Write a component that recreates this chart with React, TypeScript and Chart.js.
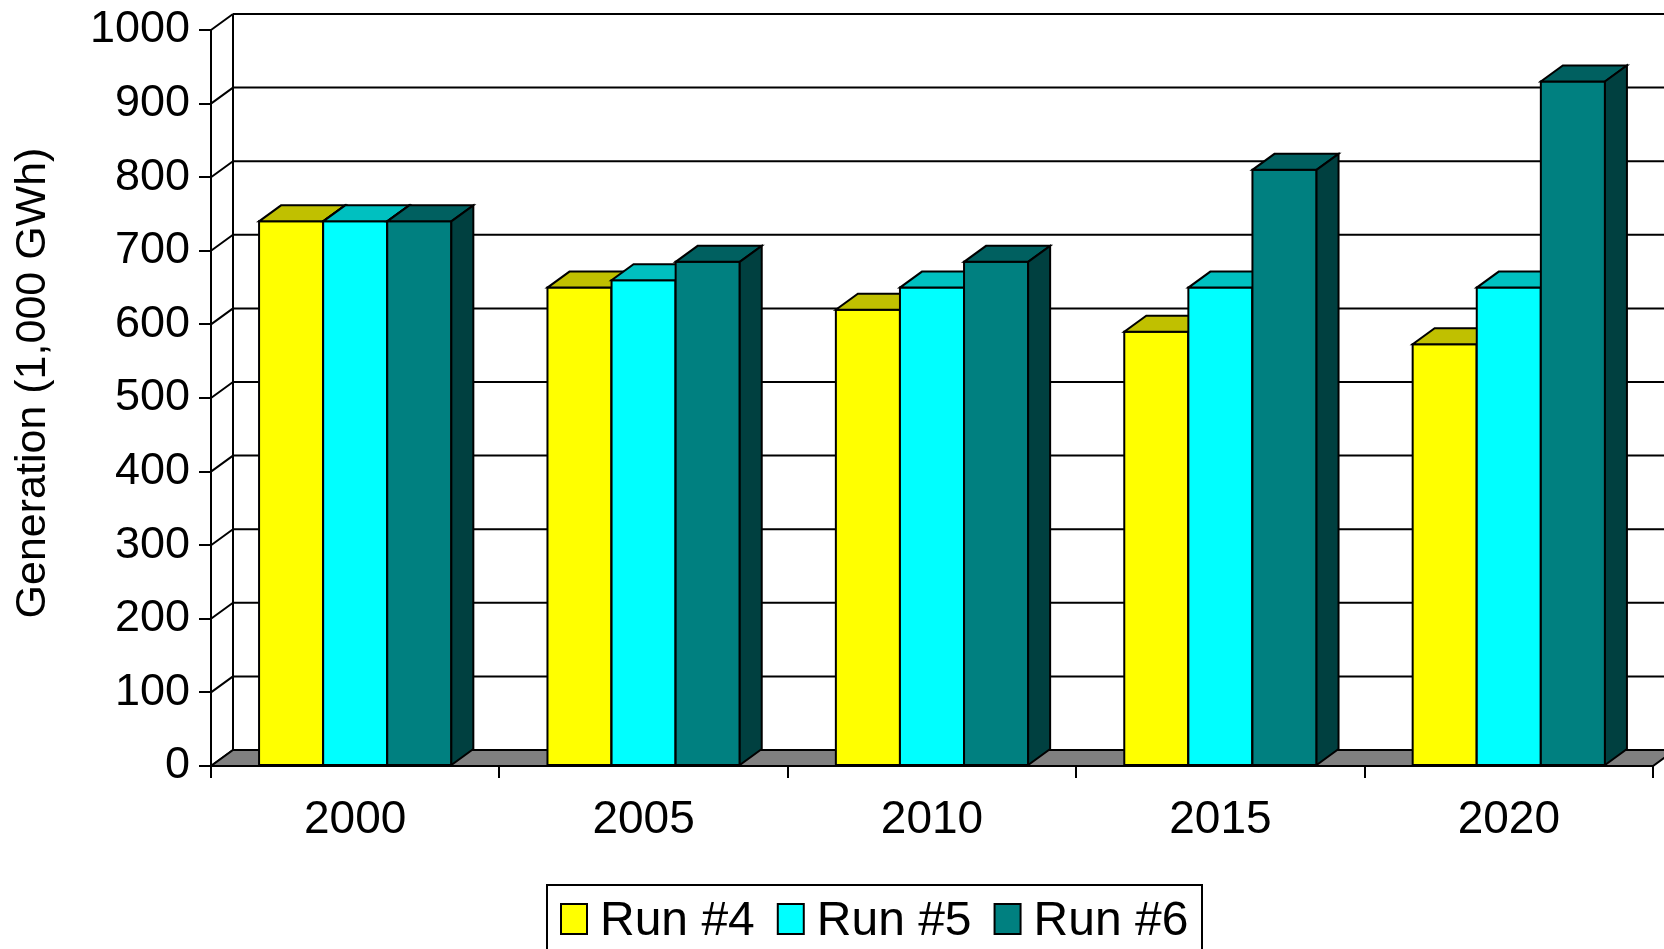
import React, { useEffect, useRef } from "react";
import { Chart, registerables } from "chart.js";

Chart.register(...registerables);

const categories = ["2000", "2005", "2010", "2015", "2020"];
const run4 = [740, 650, 620, 590, 573];
const run5 = [740, 660, 650, 650, 650];
const run6 = [740, 685, 685, 810, 930];
const seriesNames = ["Run #4", "Run #5", "Run #6"];
const yTitle = "Generation (1,000 GWh)";

const FONT = "'Liberation Sans', Arial, sans-serif";
const FRONT = ["#FFFF00", "#00FFFF", "#008080"];
const TOP = ["#C0C000", "#00C0C0", "#006060"];
const SIDE = ["#808000", "#008080", "#004040"];
const DX = 22;
const DY = -16;

function poly(ctx: CanvasRenderingContext2D, pts: number[][], fill: string | null) {
  ctx.beginPath();
  ctx.moveTo(pts[0][0], pts[0][1]);
  for (let i = 1; i < pts.length; i++) ctx.lineTo(pts[i][0], pts[i][1]);
  ctx.closePath();
  if (fill) {
    ctx.fillStyle = fill;
    ctx.fill();
  }
  ctx.stroke();
}

const threeD = {
  id: "threeD",
  beforeDatasetsDraw(chart: any) {
    const ctx: CanvasRenderingContext2D = chart.ctx;
    const { left, right, bottom } = chart.chartArea;
    const y = chart.scales.y;
    ctx.save();
    ctx.strokeStyle = "#000";
    ctx.lineWidth = 2;
    ctx.lineJoin = "miter";
    y.ticks.forEach((t: any) => {
      const py = y.getPixelForValue(t.value);
      ctx.beginPath();
      ctx.moveTo(left + DX, py + DY);
      ctx.lineTo(chart.width + 40, py + DY);
      ctx.moveTo(left, py);
      ctx.lineTo(left + DX, py + DY);
      ctx.stroke();
    });
    const topPx = y.getPixelForValue(y.max);
    ctx.beginPath();
    ctx.moveTo(left + DX, topPx + DY);
    ctx.lineTo(left + DX, bottom + DY);
    ctx.stroke();
    poly(ctx, [[left, bottom], [right, bottom], [right + DX, bottom + DY], [left + DX, bottom + DY]], "#808080");
    const n = chart.data.labels.length;
    for (let j = 0; j < n; j++) {
      chart.data.datasets.forEach((_: any, i: number) => {
        const el = chart.getDatasetMeta(i).data[j];
        const p = el.getProps(["x", "y", "base", "width"], true);
        const x0 = p.x - p.width / 2;
        const x1 = p.x + p.width / 2;
        poly(ctx, [[x0, p.y], [x1, p.y], [x1, p.base], [x0, p.base]], FRONT[i]);
        poly(ctx, [[x0, p.y], [x1, p.y], [x1 + DX, p.y + DY], [x0 + DX, p.y + DY]], TOP[i]);
        poly(ctx, [[x1, p.y], [x1 + DX, p.y + DY], [x1 + DX, p.base + DY], [x1, p.base]], SIDE[i]);
      });
    }
    ctx.restore();
    return false;
  },
  afterDraw(chart: any) {
    const ctx: CanvasRenderingContext2D = chart.ctx;
    ctx.save();
    ctx.fillStyle = "#000";
    ctx.font = `43px ${FONT}`;
    ctx.translate(33, 383);
    ctx.rotate(-Math.PI / 2);
    ctx.textAlign = "center";
    ctx.textBaseline = "middle";
    ctx.fillText(yTitle, 0, 0);
    ctx.restore();
    ctx.save();
    ctx.strokeStyle = "#000";
    ctx.lineWidth = 2;
    ctx.strokeRect(547, 885, 655, 100);
    ctx.font = `48px ${FONT}`;
    ctx.textBaseline = "alphabetic";
    ctx.textAlign = "left";
    let x = 561;
    seriesNames.forEach((name, i) => {
      ctx.fillStyle = FRONT[i];
      ctx.fillRect(x, 904, 26, 30);
      ctx.strokeRect(x, 904, 26, 30);
      ctx.fillStyle = "#000";
      ctx.fillText(name, x + 39, 935);
      x += 39 + ctx.measureText(name).width + 23;
    });
    ctx.restore();
  },
};

export default function App() {
  const ref = useRef<HTMLCanvasElement>(null);
  useEffect(() => {
    if (!ref.current) return;
    Chart.defaults.font.family = FONT;
    const chart = new Chart(ref.current, {
      type: "bar",
      data: {
        labels: categories,
        datasets: [
          { label: seriesNames[0], data: run4, backgroundColor: FRONT[0] },
          { label: seriesNames[1], data: run5, backgroundColor: FRONT[1] },
          { label: seriesNames[2], data: run6, backgroundColor: FRONT[2] },
        ],
      },
      options: {
        responsive: false,
        animation: false,
        layout: { padding: { top: 30, right: 11, left: 0, bottom: 0 } },
        datasets: { bar: { categoryPercentage: 2 / 3, barPercentage: 1 } },
        plugins: { legend: { display: false }, tooltip: { enabled: false } },
        scales: {
          x: {
            offset: true,
            grid: { offset: true, display: true, drawOnChartArea: false, drawTicks: true, tickLength: 12, color: "#000", lineWidth: 2 },
            border: { display: true, color: "#000", width: 2 },
            ticks: { color: "#000", font: { size: 46 }, padding: 15, maxRotation: 0 },
            afterFit: (s: any) => {
              s.height = 183;
              s.paddingLeft = 0;
              s.paddingRight = 0;
            },
          },
          y: {
            min: 0,
            max: 1000,
            ticks: { stepSize: 100, color: "#000", font: { size: 45 }, padding: 9, callback: (v: any) => String(v) },
            grid: { display: true, drawOnChartArea: false, drawTicks: true, tickLength: 12, color: "#000", lineWidth: 2 },
            border: { display: true, color: "#000", width: 2 },
            afterFit: (s: any) => {
              s.width = 211;
              s.paddingTop = 0;
              s.paddingBottom = 0;
            },
          },
        },
      },
      plugins: [threeD],
    } as any);
    return () => chart.destroy();
  }, []);
  return (
    <div style={{ position: "absolute", left: 0, top: 0, width: 1664, height: 949, background: "#fff" }}>
      <canvas ref={ref} width={1664} height={949} style={{ display: "block" }} />
    </div>
  );
}
